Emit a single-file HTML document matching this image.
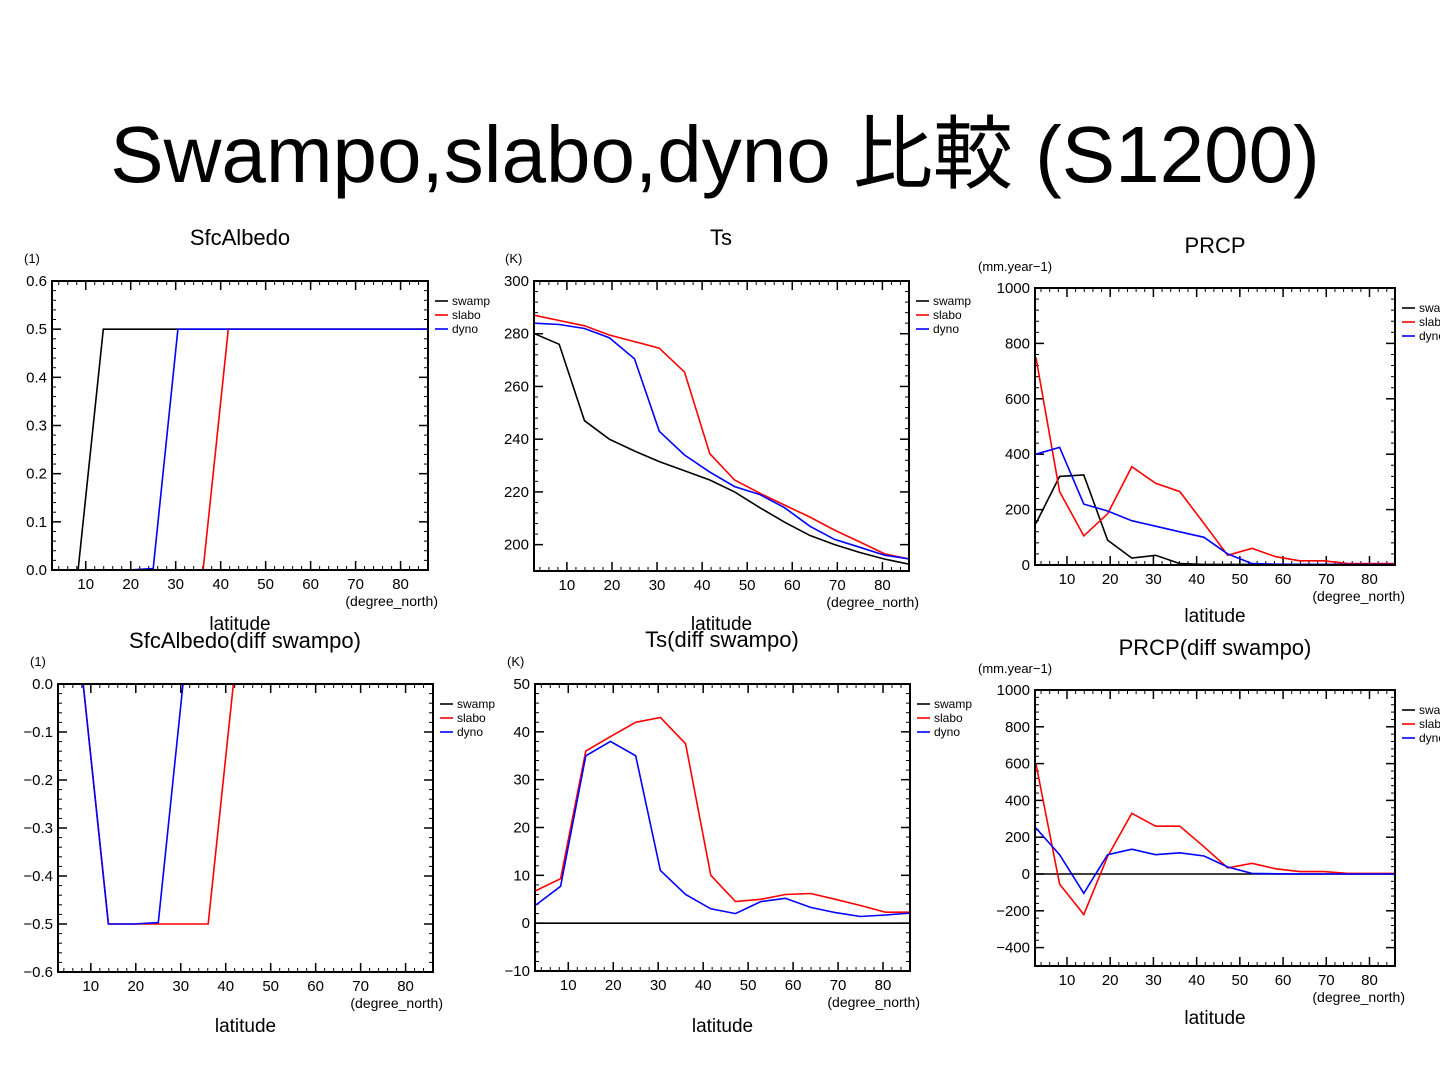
<!DOCTYPE html>
<html><head><meta charset="utf-8">
<style>
html,body{margin:0;padding:0;background:#fff;}
body{width:1440px;height:1080px;overflow:hidden;position:relative;font-family:"Liberation Sans","Noto Sans CJK JP",sans-serif;}
#title{position:absolute;left:0;width:1430px;top:90px;text-align:center;font-size:80px;color:#000;white-space:nowrap;}
svg{position:absolute;left:0;top:0;}
</style></head>
<body>
<div id="title">Swampo,slabo,dyno 比較 (S1200)</div>
<svg id="chart" width="1440" height="1080"></svg>
<script>
const lats = [2.8,8.3,13.9,19.4,25.0,30.5,36.1,41.7,47.2,52.8,58.3,63.9,69.4,75.0,80.5,86.1];
const xTicks = [10,20,30,40,50,60,70,80];
const seriesNames = ["swamp","slabo","dyno"];

const albSwamp = [0,0,0.5,0.5,0.5,0.5,0.5,0.5,0.5,0.5,0.5,0.5,0.5,0.5,0.5,0.5];
const albSlabo = [0,0,0,0,0,0,0,0.5,0.5,0.5,0.5,0.5,0.5,0.5,0.5,0.5];
const albDyno  = [0,0,0,0,0.003,0.5,0.5,0.5,0.5,0.5,0.5,0.5,0.5,0.5,0.5,0.5];
const albTicks = [0,0.1,0.2,0.3,0.4,0.5,0.6];

const tsSwamp = [280,276,247,240,235.5,231.5,228,224.5,220,214,208.5,203.5,200,197,194.5,192.5];
const tsSlabo = [287,285,283,279.5,277,274.5,265.5,234.5,224.5,219.5,215,210.5,205.5,201,196.5,194.5];
const tsDyno  = [284,283.5,282,278.5,270.5,243,234,227.5,222,219,214,207,202,199,196,194.5];
const tsTicks = [200,220,240,260,280,300];

const prSwamp = [150,320,325,90,25,35,5,2,2,2,2,2,2,2,2,2];
const prSlabo = [750,265,105,185,355,295,265,150,35,60,30,15,15,5,5,5];
const prDyno  = [400,425,220,195,160,140,120,100,40,5,3,2,2,2,2,2];
const prTicks = [0,200,400,600,800,1000];

const dAlbSwamp = [0,0,0,0,0,0,0,0,0,0,0,0,0,0,0,0];
const dAlbSlabo = [0,0,-0.5,-0.5,-0.5,-0.5,-0.5,0,0,0,0,0,0,0,0,0];
const dAlbDyno  = [0,0,-0.5,-0.5,-0.497,0,0,0,0,0,0,0,0,0,0,0];
const dAlbTicks = [-0.6,-0.5,-0.4,-0.3,-0.2,-0.1,0.0];

const dTsSwamp = [0,0,0,0,0,0,0,0,0,0,0,0,0,0,0,0];
const dTsSlabo = [6.8,9.3,36,39,42,43,37.5,10,4.5,5,6,6.2,5,3.7,2.3,2.3];
const dTsDyno  = [3.8,7.7,35,38,35,11,6,3,2,4.5,5.2,3.3,2.2,1.4,1.7,2.1];
const dTsTicks = [-10,0,10,20,30,40,50];

const dPrSwamp = [0,0,0,0,0,0,0,0,0,0,0,0,0,0,0,0];
const dPrSlabo = [600,-55,-220,95,330,260,260,148,33,58,28,13,13,3,3,3];
const dPrDyno  = [250,105,-105,105,135,105,115,98,38,3,1,0,0,0,0,0];
const dPrTicks = [-400,-200,0,200,400,600,800,1000];

const NS = "http://www.w3.org/2000/svg";
const svg = document.getElementById("chart");
function mk(tag, attrs, parent){
  const e = document.createElementNS(NS, tag);
  for (const k in attrs) e.setAttribute(k, attrs[k]);
  (parent||svg).appendChild(e);
  return e;
}
function txt(s, x, y, size, anchor, parent){
  const t = mk("text", {x:x, y:y, "font-size":size, "text-anchor":anchor||"middle", fill:"#000",
    "font-family":"Liberation Sans, DejaVu Sans, sans-serif"}, parent);
  t.textContent = s;
  return t;
}
function fmt(v, dec){ return (v<0?"\u2212":"") + Math.abs(v).toFixed(dec); }

function panel(cfg){
  const g = mk("g", {});
  
  
  const L=cfg.x0, R=cfg.x1, T=cfg.y0, B=cfg.y1;
  const xs = v => L + (v - cfg.xmin)/(cfg.xmax - cfg.xmin)*(R-L);
  const ys = v => B - (v - cfg.ymin)/(cfg.ymax - cfg.ymin)*(B-T);
  const tt = txt(cfg.title, cfg.tx, cfg.ty, 22, "middle", g);
  
  
  const ut = txt(cfg.unit, cfg.ux, cfg.uy, 13, "start", g);
  
  
  for (let v=2; v<=86; v+=2){
    const x = xs(v); if (x<L||x>R) continue;
    mk("line",{x1:x,y1:B,x2:x,y2:B-4,stroke:"#000","stroke-width":1},g);
    mk("line",{x1:x,y1:T,x2:x,y2:T+4,stroke:"#000","stroke-width":1},g);
  }
  xTicks.forEach(v=>{
    const x = xs(v);
    mk("line",{x1:x,y1:B,x2:x,y2:B-9,stroke:"#000","stroke-width":1.5},g);
    mk("line",{x1:x,y1:T,x2:x,y2:T+9,stroke:"#000","stroke-width":1.5},g);
    const l = txt(String(v), x, B+19, 15, "middle", g);
    
    
  });
  const step = cfg.yticks[1]-cfg.yticks[0];
  for (let i=0;i<cfg.yticks.length;i++){
    const v = cfg.yticks[i], y = ys(v);
    mk("line",{x1:L,y1:y,x2:L+9,y2:y,stroke:"#000","stroke-width":1.5},g);
    mk("line",{x1:R,y1:y,x2:R-9,y2:y,stroke:"#000","stroke-width":1.5},g);
    const l = txt(fmt(v,cfg.dec), L-5, y+5, 15, "end", g);
    
    
    if (i<cfg.yticks.length-1){
      for (let k=1;k<5;k++){
        const ym = ys(v+step*k/5);
        mk("line",{x1:L,y1:ym,x2:L+4,y2:ym,stroke:"#000","stroke-width":1},g);
        mk("line",{x1:R,y1:ym,x2:R-4,y2:ym,stroke:"#000","stroke-width":1},g);
      }
    }
  }
  const xt = txt("(degree_north)", R+10, B+36, 14, "end", g);
  
  
  const xl = txt("latitude", (L+R)/2, cfg.ly, 19, "middle", g);
  
  
  const colors = ["#000","#ff0000","#0000ff"];
  const clipId = "clip"+cfg.name;
  const cp = mk("clipPath",{id:clipId},g);
  mk("rect",{x:L,y:T-1,width:R-L,height:B-T+2},cp);
  cfg.series.forEach((arr,si)=>{
    const pts = arr.map((v,i)=> xs(lats[i]).toFixed(1)+","+ys(v).toFixed(1)).join(" ");
    const pl = mk("polyline",{points:pts,fill:"none",stroke:colors[si],"stroke-width":1.6,"clip-path":"url(#"+clipId+")"},g);
    
    
  });
  mk("rect",{x:L,y:T,width:R-L,height:B-T,fill:"none",stroke:"#000","stroke-width":2},g);
  seriesNames.forEach((n,i)=>{
    const yy = T+20+i*14;
    const ll = mk("line",{x1:R+7,y1:yy,x2:R+20,y2:yy,stroke:colors[i],"stroke-width":1.6},g);
    
    
    const lt = txt(n, R+24, yy+4, 12, "start", g);
    
    
  });
}

panel({name:"sfcalbedo-chart",title:"SfcAlbedo",tx:240,ty:245,unit:"(1)",ux:24,uy:263,
  x0:52,x1:428,y0:281,y1:570,xmin:2.5,xmax:86.1,ymin:0,ymax:0.6,yticks:albTicks,dec:1,ly:630,
  series:[albSwamp,albSlabo,albDyno]});
panel({name:"ts-chart",title:"Ts",tx:721,ty:245,unit:"(K)",ux:505,uy:263,
  x0:534,x1:909,y0:281,y1:571,xmin:2.7,xmax:85.9,ymin:190,ymax:300,yticks:tsTicks,dec:0,ly:630,
  series:[tsSwamp,tsSlabo,tsDyno]});
panel({name:"prcp-chart",title:"PRCP",tx:1215,ty:253,unit:"(mm.year\u22121)",ux:978,uy:271,
  x0:1035,x1:1395,y0:288,y1:565,xmin:2.6,xmax:85.9,ymin:0,ymax:1000,yticks:prTicks,dec:0,ly:622,
  series:[prSwamp,prSlabo,prDyno]});
panel({name:"sfcalbedo-diff-chart",title:"SfcAlbedo(diff swampo)",tx:245,ty:648,unit:"(1)",ux:30,uy:666,
  x0:58,x1:433,y0:684,y1:972,xmin:2.7,xmax:86.1,ymin:-0.6,ymax:0,yticks:dAlbTicks,dec:1,ly:1032,
  series:[dAlbSwamp,dAlbSlabo,dAlbDyno]});
panel({name:"ts-diff-chart",title:"Ts(diff swampo)",tx:722,ty:647,unit:"(K)",ux:507,uy:666,
  x0:535,x1:910,y0:684,y1:971,xmin:2.6,xmax:86.0,ymin:-10,ymax:50,yticks:dTsTicks,dec:0,ly:1032,
  series:[dTsSwamp,dTsSlabo,dTsDyno]});
panel({name:"prcp-diff-chart",title:"PRCP(diff swampo)",tx:1215,ty:655,unit:"(mm.year\u22121)",ux:978,uy:673,
  x0:1035,x1:1395,y0:690,y1:966,xmin:2.6,xmax:85.9,ymin:-500,ymax:1000,yticks:dPrTicks,dec:0,ly:1024,
  series:[dPrSwamp,dPrSlabo,dPrDyno]});
</script>
</body></html>
